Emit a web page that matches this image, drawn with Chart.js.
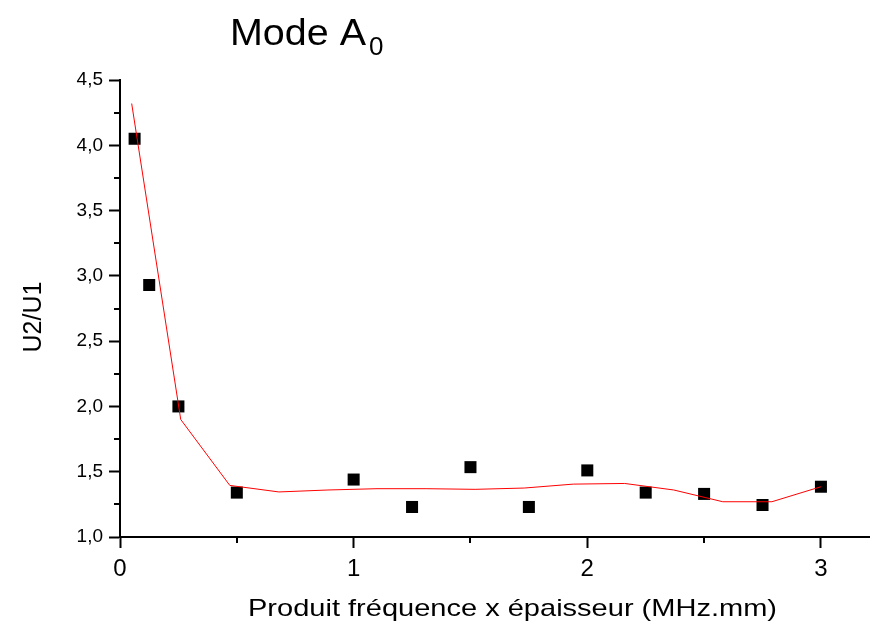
<!DOCTYPE html>
<html>
<head>
<meta charset="utf-8">
<script src="https://cdn.jsdelivr.net/npm/chart.js@4.4.1/dist/chart.umd.min.js"></script>
<style>
  html, body { margin: 0; padding: 0; background: #fff; }
  #wrap { width: 870px; height: 626px; position: relative; }
</style>
</head>
<body>
<div id="wrap"><canvas id="chart"></canvas></div>
<script>
// measured points (fd product, amplitude ratio)
var measX = [0.0625, 0.125, 0.25, 0.5, 1.0, 1.25, 1.5, 1.75, 2.0, 2.25, 2.5, 2.75, 3.0];
var measY = [4.05, 2.93, 2.00, 1.34, 1.44, 1.23, 1.535, 1.23, 1.51, 1.34, 1.33, 1.245, 1.385];

// smoothed curve through the measurements
var fitX = [0.05, 0.26, 0.47, 0.68, 0.89, 1.10, 1.31, 1.52, 1.73, 1.94, 2.16, 2.37, 2.58, 2.79, 3.00];
var fitY = [4.32, 1.90, 1.395, 1.345, 1.36, 1.37, 1.37, 1.365, 1.375, 1.405, 1.41, 1.36, 1.27, 1.27, 1.385];

var xTicks = [0, 0.5, 1, 1.5, 2, 2.5, 3];
var yTicks = [1, 1.25, 1.5, 1.75, 2, 2.25, 2.5, 2.75, 3, 3.25, 3.5, 3.75, 4, 4.25, 4.5];

var FONT = "'Liberation Sans', Arial, sans-serif";

function pairs(xs, ys) {
  return xs.map(function(x, i) { return { x: x, y: ys[i] }; });
}

function isMajorX(v) { return Math.abs(v - Math.round(v)) < 1e-6; }
function isMajorY(v) { return Math.abs(v * 2 - Math.round(v * 2)) < 1e-6; }

// draw text squeezed/stretched to a given width
function fitText(ctx, text, x, y, width) {
  var w = ctx.measureText(text).width;
  ctx.save();
  ctx.translate(x, y);
  ctx.scale(width / w, 1);
  ctx.fillText(text, 0, 0);
  ctx.restore();
}

// chart title (with subscript) and both axis titles
var titles = {
  id: 'titles',
  afterDraw: function(chart) {
    var ctx = chart.ctx;
    ctx.save();
    ctx.fillStyle = '#000';
    ctx.textBaseline = 'alphabetic';
    ctx.textAlign = 'left';

    ctx.font = '37px ' + FONT;
    fitText(ctx, 'Mode A', 230, 45, 136);
    ctx.font = '26px ' + FONT;
    ctx.fillText('0', 369, 55);

    ctx.font = '24px ' + FONT;
    fitText(ctx, 'Produit fréquence x épaisseur (MHz.mm)', 248, 616, 529);

    ctx.font = '25px ' + FONT;
    ctx.translate(41, 317);
    ctx.rotate(-Math.PI / 2);
    ctx.textAlign = 'center';
    ctx.fillText('U2/U1', 0, 0);
    ctx.restore();
  }
};

// short outward ticks for the minor divisions
var minorTicks = {
  id: 'minorTicks',
  afterDraw: function(chart) {
    var ctx = chart.ctx;
    var sx = chart.scales.x, sy = chart.scales.y;
    var area = chart.chartArea;
    ctx.save();
    ctx.strokeStyle = '#000';
    ctx.lineWidth = 2;
    ctx.beginPath();
    xTicks.forEach(function(v) {
      if (isMajorX(v)) return;
      var px = Math.round(sx.getPixelForValue(v));
      ctx.moveTo(px, area.bottom);
      ctx.lineTo(px, area.bottom + 6);
    });
    yTicks.forEach(function(v) {
      if (isMajorY(v)) return;
      var py = Math.round(sy.getPixelForValue(v));
      ctx.moveTo(area.left, py);
      ctx.lineTo(area.left - 6, py);
    });
    ctx.stroke();
    ctx.restore();
  }
};

new Chart(document.getElementById('chart'), {
  type: 'scatter',
  plugins: [titles, minorTicks],
  data: {
    datasets: [
      {
        type: 'line',
        label: 'fit',
        data: pairs(fitX, fitY),
        borderColor: '#ff0000',
        borderWidth: 1,
        pointRadius: 0,
        fill: false,
        tension: 0,
        order: 0
      },
      {
        label: 'U2/U1',
        data: pairs(measX, measY),
        pointStyle: 'rect',
        pointRadius: 8.5,
        pointBackgroundColor: '#000',
        pointBorderColor: '#000',
        pointBorderWidth: 0,
        order: 1
      }
    ]
  },
  options: {
    responsive: true,
    maintainAspectRatio: false,
    animation: false,
    layout: { autoPadding: false, padding: { top: 80, left: 0, right: 0, bottom: 0 } },
    plugins: {
      legend: { display: false },
      tooltip: { enabled: false },
      title: { display: false }
    },
    scales: {
      x: {
        type: 'linear',
        min: 0,
        max: 3.21,
        afterBuildTicks: function(scale) {
          scale.ticks = xTicks.map(function(v) { return { value: v }; });
        },
        afterFit: function(scale) { scale.height = 89; },
        border: { display: true, color: '#000', width: 2 },
        grid: {
          drawOnChartArea: false,
          drawTicks: true,
          tickLength: 11,
          tickWidth: 2,
          tickColor: function(c) { return isMajorX(c.tick.value) ? '#000' : 'rgba(0,0,0,0)'; }
        },
        ticks: {
          color: '#000',
          padding: 7,
          autoSkip: false,
          maxRotation: 0,
          font: { family: FONT, size: 24 },
          callback: function(v) { return isMajorX(v) ? String(Math.round(v)) : ''; }
        }
      },
      y: {
        type: 'linear',
        min: 1,
        max: 4.5,
        afterBuildTicks: function(scale) {
          scale.ticks = yTicks.map(function(v) { return { value: v }; });
        },
        afterFit: function(scale) { scale.width = 120; },
        border: { display: true, color: '#000', width: 2 },
        grid: {
          drawOnChartArea: false,
          drawTicks: true,
          tickLength: 11,
          tickWidth: 2,
          tickColor: function(c) { return isMajorY(c.tick.value) ? '#000' : 'rgba(0,0,0,0)'; }
        },
        ticks: {
          color: '#000',
          padding: 6,
          autoSkip: false,
          font: { family: FONT, size: 19 },
          callback: function(v) { return isMajorY(v) ? v.toFixed(1).replace('.', ',') : ''; }
        }
      }
    }
  }
});
</script>
</body>
</html>
